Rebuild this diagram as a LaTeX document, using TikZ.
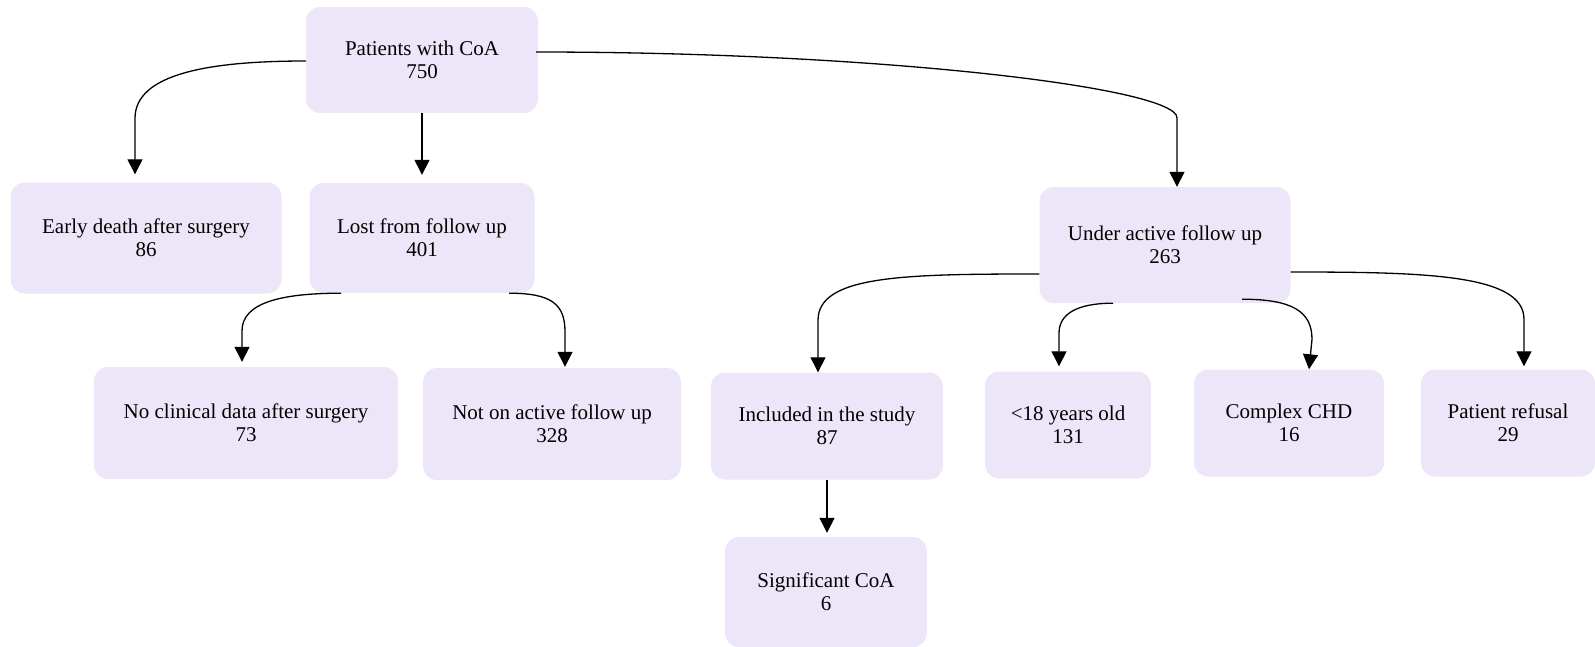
\documentclass[tikz,border=0pt]{standalone}
\usepackage{fontspec}
\setmainfont{Liberation Serif}
\usetikzlibrary{arrows.meta,calc}
\definecolor{boxfill}{RGB}{237,230,248}
\begin{document}
\begin{tikzpicture}[x=1pt,y=-1pt,
  box/.style={fill=boxfill, draw=none, rounded corners=14pt, align=center, inner sep=0pt, font=\fontsize{21}{23}\selectfont},
  arr/.style={line width=1.3pt, -{Triangle[length=15pt,width=15pt]}}]
\useasboundingbox (0,0) rectangle (1595,646);
\node[box, minimum width=232pt, minimum height=106pt] (pat) at (422,60) {Patients with CoA\\750};
\node[box, minimum width=271pt, minimum height=111pt] (ed) at (146,238) {Early death after surgery\\86};
\node[box, minimum width=225pt, minimum height=110pt] (lost) at (422,238) {Lost from follow up\\401};
\node[box, minimum width=251pt, minimum height=116pt] (ua) at (1165,245) {Under active follow up\\263};
\node[box, minimum width=304pt, minimum height=112pt] (nc) at (246,423) {No clinical data after surgery\\73};
\node[box, minimum width=258pt, minimum height=112pt] (na) at (552,424) {Not on active follow up\\328};
\node[box, minimum width=232pt, minimum height=107pt] (inc) at (827,426) {Included in the study\\87};
\node[box, minimum width=166pt, minimum height=107pt] (u18) at (1068,425) {<18 years old\\131};
\node[box, minimum width=190pt, minimum height=107pt] (chd) at (1289,423) {Complex CHD\\16};
\node[box, minimum width=174pt, minimum height=107pt] (ref) at (1508,423) {Patient refusal\\29};
\node[box, minimum width=202pt, minimum height=110pt] (sig) at (826,592) {Significant CoA\\6};

% Patients -> children
\draw[arr] ($(pat.west)+(0,1)$) .. controls +(-95,0) and +(0,-45) .. ($(ed.north)+(-11,-64)$) -- ($(ed.north)+(-11,-8)$);
\draw[arr] (pat.south) -- ($(lost.north)+(0,-8)$);
\draw[arr] ($(pat.east)+(-2,-8)$) .. controls +(344,0) and +(0,-30) .. ($(ua.north)+(12,-69)$) -- ($(ua.north)+(12,0)$);
% Lost -> children
\draw[arr] ($(lost.south)+(-81,0)$) .. controls +(-60,0) and +(0,-28) .. ($(nc.north)+(-4,-36)$) -- ($(nc.north)+(-4,-5)$);
\draw[arr] ($(lost.south)+(87,0)$) .. controls +(42,0) and +(0,-28) .. ($(na.north)+(13,-36)$) -- ($(na.north)+(13,-1)$);
% Under active -> children
\draw[arr] ($(ua.west)+(0,29)$) .. controls +(-135,0) and +(0,-45) .. ($(inc.north)+(-9,-52)$) -- ($(inc.north)+(-9,0)$);
\draw[arr] ($(ua.south)+(-52,0)$) .. controls +(-35,0) and +(0,-20) .. ($(u18.north)+(-9,-38)$) -- ($(u18.north)+(-9,-5)$);
\draw[arr] ($(ua.south)+(77,-4)$) .. controls +(50,0) and +(0,-28) .. ($(chd.north)+(23,-30)$) -- ($(chd.north)+(20,0)$);
\draw[arr] ($(ua.east)+(0,27)$) .. controls +(135,0) and +(0,-45) .. ($(ref.north)+(16,-50)$) -- ($(ref.north)+(16,-3)$);
% Included -> Significant
\draw[arr] (inc.south) -- ($(sig.north)+(1,-4)$);
\end{tikzpicture}
\end{document}
